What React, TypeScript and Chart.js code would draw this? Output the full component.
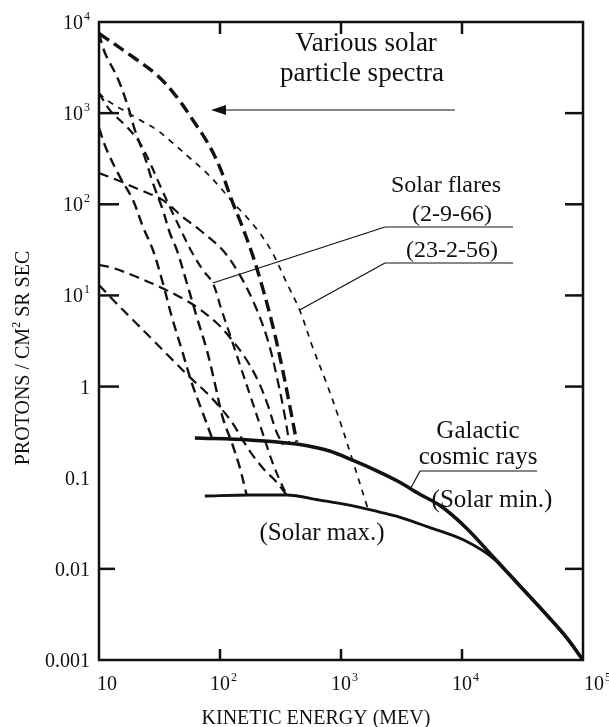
import React, { useEffect, useRef } from "react";
import { Chart, registerables } from "chart.js";
Chart.register(...registerables);

// ---- axis ticks ----
const xTicks = [10, 100, 1000, 10000, 100000];
const xTickBase = ["10", "10", "10", "10", "10"];
const xTickExp = ["", "2", "3", "4", "5"];
const yTicks = [10000, 1000, 100, 10, 1, 0.1, 0.01, 0.001];
const yTickBase = ["10", "10", "10", "10", "1", "0.1", "0.01", "0.001"];
const yTickExp = ["4", "3", "2", "1", "", "", "", ""];

// ---- galactic cosmic rays ----
const gcrMinEnergy = [62, 176, 430, 804, 1245, 2080, 3035, 4440, 6490, 10640, 18450, 29650, 47650, 72400, 100000];
const gcrMinFlux = [0.273, 0.259, 0.234, 0.196, 0.156, 0.1155, 0.0898, 0.0663, 0.0501, 0.0288, 0.01315, 0.00665, 0.00336, 0.00179, 0.001];
const gcrMaxEnergy = [75, 176, 355, 665, 1175, 2080, 3035, 5370, 10640, 18450, 29650, 47650, 72400, 100000];
const gcrMaxFlux = [0.063, 0.0646, 0.0646, 0.0569, 0.0501, 0.042, 0.037, 0.0285, 0.0203, 0.0128, 0.00665, 0.00336, 0.00179, 0.001];

// ---- solar particle spectra ----
const s1Energy = [10, 19.1, 30.1, 44, 59.6, 79.3, 99.5, 125, 151, 186, 225, 272, 323, 376, 430];
const s1Flux = [7500, 4130, 2620, 1500, 841, 470, 256, 111, 59.3, 27.7, 12.1, 4.73, 1.73, 0.628, 0.247];

const s2Energy = [10, 11.2, 14.1, 17, 19.8, 23.9, 27.9, 33.7, 38.5, 44, 53.2, 64.3, 77.8, 90.6, 105, 127, 146, 166];
const s2Flux = [7500, 4570, 2500, 1290, 653, 330, 171, 86.5, 48.4, 31.5, 13.7, 5.79, 2.52, 1.09, 0.463, 0.229, 0.128, 0.0646];

// (23-2-56)
const s3Energy = [10, 11.6, 15.8, 21.8, 30.1, 40.7, 56.3, 77.8, 99.5, 127, 166, 213, 272, 356, 455, 582, 759, 973, 1245, 1656];
const s3Flux = [1660, 1390, 1080, 841, 653, 470, 322, 220, 155, 106, 72.4, 48.4, 29.2, 13.7, 6.92, 2.72, 1.09, 0.43, 0.156, 0.047];

// (2-9-66)
const s4Energy = [10, 12.3, 17, 21.8, 26.4, 31.8, 38.5, 46.6, 58.5, 72.1, 87.1, 103, 125, 151, 183, 221, 267, 311, 356];
const s4Flux = [1660, 1080, 705, 470, 284, 163, 93.3, 55, 29.9, 19, 13.7, 6.92, 3.24, 1.52, 0.711, 0.333, 0.156, 0.0944, 0.0646];

const s5Energy = [10, 11.6, 14.9, 19.1, 23.1, 27.9, 33.7, 40, 48.4, 58.5, 70.6, 87.1];
const s5Flux = [687, 394, 199, 111, 56.4, 31.5, 13.7, 5.79, 2.52, 1.09, 0.553, 0.259];

const s6Energy = [10, 14.1, 21.8, 33.7, 49.3, 68.1, 105, 146, 194, 248, 299, 342, 376];
const s6Flux = [220, 185, 144, 111, 72.4, 52.2, 31.5, 16.7, 7.85, 3.24, 1.18, 0.488, 0.229];

const s7Energy = [10, 13.1, 20.6, 31.8, 46.6, 64.3, 94, 120, 160, 205, 248, 289, 330];
const s7Flux = [21.6, 20, 15.9, 12.4, 9.62, 7.46, 4.98, 3.5, 2.11, 1.18, 0.628, 0.333, 0.229];

const s8Energy = [10, 13.1, 19.1, 27.9, 40.7, 56.3, 77.8, 99.5, 127, 154, 186, 234, 283, 356];
const s8Flux = [13, 8.91, 5.37, 3.24, 1.95, 1.27, 0.849, 0.597, 0.398, 0.259, 0.177, 0.121, 0.0944, 0.0646];

// annotation anchors (data coordinates of leader-line tips)
const flare2966Tip = [87.1, 13.7];
const flare23256Tip = [455, 6.92];
const gcrTip = [3800, 0.078];

const SERIF = '"Liberation Serif", "Times New Roman", "DejaVu Serif", serif';

const pts = (xs: number[], ys: number[]) => xs.map((x, i) => ({ x, y: ys[i] }));

export default function App() {
  const ref = useRef<HTMLCanvasElement | null>(null);
  useEffect(() => {
    document.body.style.margin = "0";
    const canvas = ref.current!;
    const dashed = (xs: number[], ys: number[], w: number, dash: number[]) => ({
      data: pts(xs, ys),
      borderColor: "#111",
      borderWidth: w,
      borderDash: dash,
      pointRadius: 0,
      tension: 0.35,
      fill: false,
    });
    const solid = (xs: number[], ys: number[], w: number) => ({
      data: pts(xs, ys),
      borderColor: "#111",
      borderWidth: w,
      pointRadius: 0,
      cubicInterpolationMode: "monotone",
      fill: false,
    });
    const overlay = {
      id: "overlay",
      afterDraw(chart: any) {
        const ctx = chart.ctx as CanvasRenderingContext2D;
        const { left, right, top, bottom } = chart.chartArea;
        const xs = chart.scales.x;
        const ys = chart.scales.y;
        ctx.save();
        ctx.strokeStyle = "#111";
        ctx.fillStyle = "#111";
        ctx.lineWidth = 2.5;
        ctx.setLineDash([]);
        ctx.strokeRect(left, top, right - left, bottom - top);
        const hline = (x1: number, x2: number, y: number) => {
          ctx.beginPath(); ctx.moveTo(x1, y); ctx.lineTo(x2, y); ctx.stroke();
        };
        const vline = (x: number, y1: number, y2: number) => {
          ctx.beginPath(); ctx.moveTo(x, y1); ctx.lineTo(x, y2); ctx.stroke();
        };
        [1000, 100, 10, 1].forEach((v) => hline(left, left + 20, ys.getPixelForValue(v)));
        hline(left, left + 16, ys.getPixelForValue(0.01));
        [1000, 100, 10, 1, 0.01].forEach((v) => hline(right - 18, right, ys.getPixelForValue(v)));
        [100, 1000, 10000].forEach((v) => {
          vline(xs.getPixelForValue(v), top, top + 12);
          vline(xs.getPixelForValue(v), bottom - 11, bottom);
        });
        const drawSup = (base: string, exp: string, x: number, y: number, align: "right" | "center", size: number) => {
          ctx.font = `${size}px ${SERIF}`;
          const wb = ctx.measureText(base).width;
          ctx.font = `${Math.round(size * 0.6)}px ${SERIF}`;
          const we = exp ? ctx.measureText(exp).width + 1 : 0;
          const x0 = align === "right" ? x - wb - we : x - wb / 2;
          ctx.textAlign = "left";
          ctx.textBaseline = "alphabetic";
          ctx.font = `${size}px ${SERIF}`;
          ctx.fillText(base, x0, y);
          if (exp) {
            ctx.font = `${Math.round(size * 0.6)}px ${SERIF}`;
            ctx.fillText(exp, x0 + wb + 1, y - size * 0.45);
          }
        };
        yTicks.forEach((v, i) => {
          drawSup(yTickBase[i], yTickExp[i], left - 9, ys.getPixelForValue(v) + 7, "right", 20);
        });
        const xLabelShift = [8, 0, 0, 0, 11];
        xTicks.forEach((v, i) => {
          drawSup(xTickBase[i], xTickExp[i], xs.getPixelForValue(v) + xLabelShift[i], bottom + 30, "center", 20);
        });
        // axis titles
        ctx.font = `20px ${SERIF}`;
        ctx.textAlign = "center";
        ctx.fillText("KINETIC ENERGY (MEV)", 316, 724);
        ctx.save();
        ctx.translate(29, 358);
        ctx.rotate(-Math.PI / 2);
        {
          const a = "PROTONS / CM";
          const b = "2";
          const c = " SR SEC";
          ctx.font = `20px ${SERIF}`;
          const wa = ctx.measureText(a).width;
          const wc = ctx.measureText(c).width;
          ctx.font = `12px ${SERIF}`;
          const wbb = ctx.measureText(b).width;
          const tot = wa + wbb + wc;
          ctx.textAlign = "left";
          ctx.font = `20px ${SERIF}`;
          ctx.fillText(a, -tot / 2, 0);
          ctx.font = `12px ${SERIF}`;
          ctx.fillText(b, -tot / 2 + wa, -9);
          ctx.font = `20px ${SERIF}`;
          ctx.fillText(c, -tot / 2 + wa + wbb, 0);
        }
        ctx.restore();
        // annotations
        ctx.textAlign = "center";
        ctx.font = `27px ${SERIF}`;
        ctx.fillText("Various solar", 366, 51);
        ctx.fillText("particle spectra", 362, 81);
        ctx.lineWidth = 1.2;
        hline(214, 455, 110);
        ctx.beginPath();
        ctx.moveTo(211, 110); ctx.lineTo(226, 105); ctx.lineTo(226, 115); ctx.closePath(); ctx.fill();

        ctx.font = `24px ${SERIF}`;
        ctx.fillText("Solar flares", 446, 192);
        ctx.fillText("(2-9-66)", 452, 221);
        ctx.fillText("(23-2-56)", 452, 257);
        ctx.lineWidth = 1.2;
        hline(385, 513, 227);
        hline(385, 513, 263);
        ctx.beginPath();
        ctx.moveTo(385, 227);
        ctx.lineTo(xs.getPixelForValue(flare2966Tip[0]), ys.getPixelForValue(flare2966Tip[1]));
        ctx.stroke();
        ctx.beginPath();
        ctx.moveTo(385, 263);
        ctx.lineTo(xs.getPixelForValue(flare23256Tip[0]), ys.getPixelForValue(flare23256Tip[1]));
        ctx.stroke();

        ctx.font = `25px ${SERIF}`;
        ctx.fillText("Galactic", 478, 438);
        ctx.fillText("cosmic rays", 478, 464);
        hline(420, 537, 471);
        ctx.beginPath();
        ctx.moveTo(420, 471);
        ctx.lineTo(xs.getPixelForValue(gcrTip[0]), ys.getPixelForValue(gcrTip[1]));
        ctx.stroke();
        ctx.fillText("(Solar min.)", 492, 507);
        ctx.fillText("(Solar max.)", 322, 540);
        ctx.restore();
      },
    };
    const chart = new Chart(canvas, {
      type: "line",
      data: {
        datasets: [
          solid(gcrMinEnergy, gcrMinFlux, 3.6),
          solid(gcrMaxEnergy, gcrMaxFlux, 2.8),
          dashed(s1Energy, s1Flux, 3.4, [12, 6]),
          dashed(s2Energy, s2Flux, 2.4, [10, 6]),
          dashed(s3Energy, s3Flux, 1.7, [6, 6]),
          dashed(s4Energy, s4Flux, 2.2, [9, 6]),
          dashed(s5Energy, s5Flux, 2.4, [10, 6]),
          dashed(s6Energy, s6Flux, 2.2, [10, 6]),
          dashed(s7Energy, s7Flux, 2.2, [10, 6]),
          dashed(s8Energy, s8Flux, 2.2, [10, 6]),
        ] as any,
      },
      options: {
        responsive: false,
        animation: false,
        devicePixelRatio: 1,
        layout: { padding: { left: 99, right: 26, top: 22, bottom: 67 } },
        plugins: { legend: { display: false }, tooltip: { enabled: false } },
        scales: {
          x: { type: "logarithmic", min: 10, max: 100000, display: false },
          y: { type: "logarithmic", min: 0.001, max: 10000, display: false },
        },
      },
      plugins: [overlay],
    });
    return () => chart.destroy();
  }, []);
  return <canvas ref={ref} width={609} height={727} style={{ display: "block" }} />;
}
